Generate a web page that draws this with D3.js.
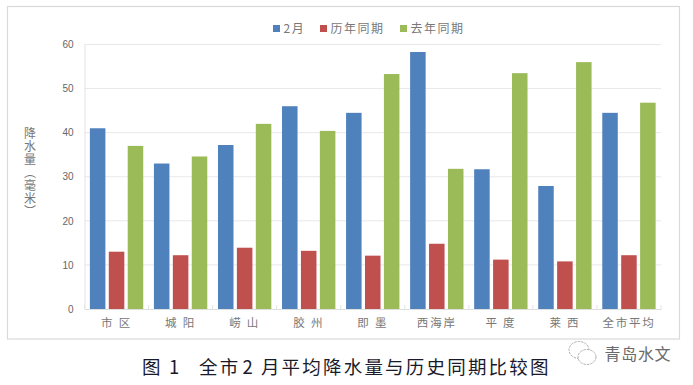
<!DOCTYPE html>
<html>
<head>
<meta charset="utf-8">
<script src="https://cdn.jsdelivr.net/npm/d3@7"></script>
<style>
html, body { margin: 0; padding: 0; background: #fff; }
svg { display: block; }
text { font-family: "Noto Sans CJK SC", "Liberation Sans", sans-serif; }
</style>
</head>
<body>
<svg width="693" height="385"></svg>
<script>
const categories = ['市 区', '城 阳', '崂 山', '胶 州', '即 墨', '西海岸', '平 度', '莱 西', '全市平均']
const seriesNames = ['2月', '历年同期', '去年同期']
const feb = [41, 33, 37.2, 46, 44.5, 58.3, 31.7, 27.9, 44.5]
const histAvg = [13, 12.2, 13.9, 13.2, 12.1, 14.8, 11.2, 10.8, 12.2]
const lastYear = [37, 34.6, 42, 40.4, 53.3, 31.8, 53.5, 56, 46.8]
const yTicks = [0, 10, 20, 30, 40, 50, 60]
const colors = ['#4f81bd', '#c0504d', '#9bbb59']
const seriesValues = [feb, histAvg, lastYear]

const svg = d3.select('svg')
const plotLeft = 84.5, plotRight = 661, plotTop = 44.5, plotBottom = 309

// outer frame
svg.append('rect')
    .attr('x', 7.5).attr('y', 6.5).attr('width', 672).attr('height', 332.5)
    .attr('fill', '#fff').attr('stroke', '#d9d9d9').attr('stroke-width', 1.2)

const y = d3.scaleLinear([0, 60], [plotBottom, plotTop])
const x0 = d3.scaleBand(d3.range(categories.length), [plotLeft, plotRight]).paddingInner(0.167).paddingOuter(0.084)
const x1 = d3.scaleBand(d3.range(3), [0, x0.bandwidth()]).paddingInner(0.18)

// grid
svg.append('g').selectAll('line').data(yTicks.slice(1)).join('line')
    .attr('x1', plotLeft).attr('x2', plotRight)
    .attr('y1', d => y(d)).attr('y2', d => y(d))
    .attr('stroke', '#e8e8e8').attr('stroke-width', 1)

// axis lines and ticks
const yAxis = svg.append('g').attr('transform', `translate(${plotLeft},0)`)
    .call(d3.axisLeft(y).tickValues(yTicks).tickSize(0).tickPadding(11))
yAxis.select('.domain').attr('stroke', '#e3e3e3')
yAxis.selectAll('text')
    .style('font-family', '"Liberation Sans"').style('font-size', '10px').attr('fill', '#666')

const xScaleTicks = d3.scaleBand(categories, [plotLeft, plotRight])
const xAxis = svg.append('g').attr('transform', `translate(0,${plotBottom})`)
    .call(d3.axisBottom(xScaleTicks).tickSize(0).tickPadding(10))
xAxis.select('.domain').attr('stroke', '#dedede')
xAxis.selectAll('text')
    .style('font-size', '11.5px').style('letter-spacing', '1.8px').attr('fill', '#777')
svg.append('g').selectAll('line').data(d3.range(categories.length + 1)).join('line')
    .attr('x1', i => plotLeft + i * xScaleTicks.step()).attr('x2', i => plotLeft + i * xScaleTicks.step())
    .attr('y1', plotBottom).attr('y2', plotBottom - 4)
    .attr('stroke', '#e3e3e3')

// bars
svg.append('g').selectAll('g').data(seriesValues).join('g')
    .attr('fill', (d, i) => colors[i])
    .each(function (vals, s) {
        d3.select(this).selectAll('rect').data(vals).join('rect')
            .attr('x', (d, i) => x0(i) + x1(s))
            .attr('y', d => y(d))
            .attr('width', x1.bandwidth())
            .attr('height', d => y(0) - y(d))
    })

// legend
const legendX = [273, 320, 400]
const legend = svg.append('g').selectAll('g').data(seriesNames).join('g')
    .attr('transform', (d, i) => `translate(${legendX[i]},28.5)`)
legend.append('rect').attr('x', 0).attr('y', -3.5).attr('width', 7).attr('height', 7)
    .attr('fill', (d, i) => colors[i])
legend.append('text').attr('x', 10.5).attr('dy', '0.36em')
    .style('font-size', '12px').style('letter-spacing', '1.5px').attr('fill', '#777')
    .text(d => d)

// y title, vertical text
svg.append('text')
    .attr('transform', 'translate(30,127)')
    .style('writing-mode', 'vertical-rl')
    .style('font-size', '12px').style('letter-spacing', '1px').attr('fill', '#777')
    .text('降水量（毫米）')

// caption
const caption = svg.append('g')
    .style('font-family', '"Liberation Serif", "Noto Sans CJK SC"')
    .style('font-size', '18.5px').style('letter-spacing', '2.2px').attr('fill', '#1a1a2a')
caption.append('text').attr('x', 142).attr('y', 374).style('white-space', 'pre').text('图 1')
const captionMain = caption.append('text').attr('x', 199).attr('y', 374)
captionMain.append('tspan').text('全市')
captionMain.append('tspan').attr('dx', 2).text('2')
captionMain.append('tspan').attr('dx', 6).text('月平均降水量与历史同期比较图')

// watermark
const mark = svg.append('g').attr('fill', '#fff').attr('stroke', '#999').attr('stroke-width', 0.8)
    .attr('stroke-dasharray', '2.5 1')
mark.append('ellipse').attr('cx', 579).attr('cy', 350).attr('rx', 10).attr('ry', 8.5)
mark.append('ellipse').attr('cx', 587).attr('cy', 357).attr('rx', 9).attr('ry', 7.5)
svg.append('text')
    .attr('x', 604.5).attr('y', 360)
    .style('font-size', '16px').attr('fill', '#6a6a6a')
    .style('letter-spacing', '0.7px')
    .text('青岛水文')
</script>
</body>
</html>
